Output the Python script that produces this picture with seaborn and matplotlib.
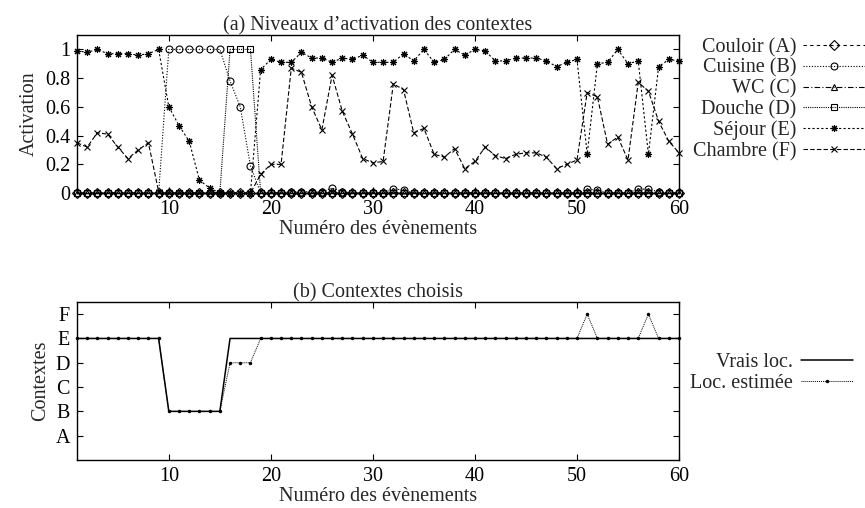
import seaborn as sns
import matplotlib.pyplot as plt
import numpy as np

# numéros des évènements
events = list(range(1, 61))

# niveaux d'activation (a)
couloir = [0.0] * 60
wc = [0.0] * 60
cuisine = ([0.0] * 9 + [1.0] * 6 + [0.78, 0.60, 0.19, 0.0, 0.0, 0.0]
           + [0.01, 0.01, 0.01, 0.005, 0.035, 0.01, 0.0, 0.0, 0.0, 0.0]
           + [0.03, 0.02] + [0.0] * 17 + [0.025, 0.02, 0.0, 0.0, 0.0, 0.03, 0.025, 0.01, 0.0, 0.0])
douche = [0.0] * 15 + [1.0, 1.0, 1.0] + [0.0] * 42
sejour = [0.99, 0.98, 1.0, 0.97, 0.97, 0.97, 0.96, 0.97, 1.0, 0.60,
          0.47, 0.36, 0.09, 0.035, 0.0, 0.0, 0.0, 0.0, 0.86, 0.93,
          0.91, 0.91, 0.98, 0.94, 0.94, 0.91, 0.94, 0.93, 0.96, 0.91,
          0.91, 0.91, 0.97, 0.92, 1.0, 0.91, 0.93, 1.0, 0.96, 1.0,
          0.99, 0.92, 0.92, 0.94, 0.94, 0.94, 0.92, 0.88, 0.91, 0.93,
          0.27, 0.90, 0.91, 1.0, 0.90, 0.92, 0.27, 0.88, 0.93, 0.92]
chambre = [0.35, 0.32, 0.42, 0.41, 0.32, 0.24, 0.30, 0.35, 0.01, 0.0,
           0.0, 0.0, 0.0, 0.0, 0.0, 0.0, 0.0, 0.0, 0.13, 0.20,
           0.20, 0.87, 0.84, 0.60, 0.44, 0.82, 0.57, 0.41, 0.24, 0.21,
           0.22, 0.76, 0.72, 0.42, 0.45, 0.27, 0.25, 0.31, 0.17, 0.22,
           0.32, 0.26, 0.24, 0.27, 0.28, 0.28, 0.25, 0.17, 0.20, 0.23,
           0.70, 0.67, 0.34, 0.39, 0.23, 0.77, 0.71, 0.50, 0.36, 0.28]

# contextes choisis (A=1 ... F=6), figure (b)
ctx_labels = ["A", "B", "C", "D", "E", "F"]
vrai = [5] * 9 + [2] * 6 + [5] * 45
estime = [5] * 9 + [2] * 6 + [4, 4, 4] + [5] * 32 + [6] + [5] * 5 + [6] + [5] * 3

FS = 14.5

sns.set_style("ticks")
plt.rcParams["font.family"] = ["Liberation Serif", "DejaVu Serif"]
plt.rcParams["font.size"] = FS
plt.rcParams["xtick.direction"] = "in"
plt.rcParams["ytick.direction"] = "in"
plt.rcParams["xtick.top"] = True
plt.rcParams["ytick.right"] = True

fig = plt.figure(figsize=(8.65, 5.08), dpi=100)
ax1 = fig.add_axes([0.089, 0.620, 0.696, 0.311])
ax2 = fig.add_axes([0.089, 0.0945, 0.696, 0.311])

series = [
    ("Couloir (A)", couloir, "D", (0, (3, 3))),
    ("Cuisine (B)", cuisine, "o", (0, (1, 1.5))),
    ("WC (C)", wc, "^", (0, (5, 2, 1, 2))),
    ("Douche (D)", douche, "s", (0, (1, 1))),
    ("Séjour (E)", sejour, (8, 2, 0), (0, (2, 2))),
    ("Chambre (F)", chambre, "x", (0, (4, 2))),
]
for name, vals, mk, ls in series:
    sns.lineplot(x=events, y=vals, ax=ax1, color="black", linewidth=0.8,
                 linestyle=ls, marker=mk, markersize=5, markerfacecolor="none",
                 markeredgecolor="black", markeredgewidth=0.8, label=name, clip_on=False)

ax1.set_xlim(1, 60)
ax1.set_ylim(0, 1.1)
ax1.set_xticks([10, 20, 30, 40, 50, 60])
ax1.set_yticks([0, 0.2, 0.4, 0.6, 0.8, 1])
ax1.set_yticklabels(["0", "0.2", "0.4", "0.6", "0.8", "1"])
ax1.set_xlabel("Numéro des évènements", labelpad=1)
ax1.set_ylabel("Activation", labelpad=4)
ax1.set_title("(a) Niveaux d’activation des contextes", fontsize=FS, pad=2)
ax1.legend(loc="upper right", bbox_to_anchor=(1.0, 1 - 38 / 508), bbox_transform=fig.transFigure,
           frameon=False, markerfirst=False, handlelength=3.1, handletextpad=0.3,
           labelspacing=0.07, borderaxespad=0, borderpad=0, fontsize=FS)

sns.lineplot(x=events, y=vrai, ax=ax2, color="black", linewidth=1.1, label="Vrais loc.")
sns.lineplot(x=events, y=estime, ax=ax2, color="black", linewidth=0.7, linestyle=(0, (1, 1)),
             marker="o", markersize=2.5, markeredgewidth=0, label="Loc. estimée", clip_on=False)
ax2.set_xlim(1, 60)
ax2.set_ylim(0, 6.5)
ax2.set_xticks([10, 20, 30, 40, 50, 60])
ax2.set_yticks(range(1, 7))
ax2.set_yticklabels(ctx_labels)
ax2.set_xlabel("Numéro des évènements", labelpad=1)
ax2.set_ylabel("Contextes", labelpad=4)
ax2.set_title("(b) Contextes choisis", fontsize=FS, pad=2)
ax2.legend(loc="upper right", bbox_to_anchor=(853 / 865, 1 - 353 / 508), bbox_transform=fig.transFigure,
           frameon=False, markerfirst=False, handlelength=2.6, handletextpad=0.4,
           labelspacing=0.07, borderaxespad=0, borderpad=0, fontsize=FS)

for ax in (ax1, ax2):
    for sp in ax.spines.values():
        sp.set_linewidth(1.0)
        sp.set_color("black")
    ax.tick_params(length=4, width=0.8, colors="black", pad=5)

fig.savefig("out.png", dpi=100)
